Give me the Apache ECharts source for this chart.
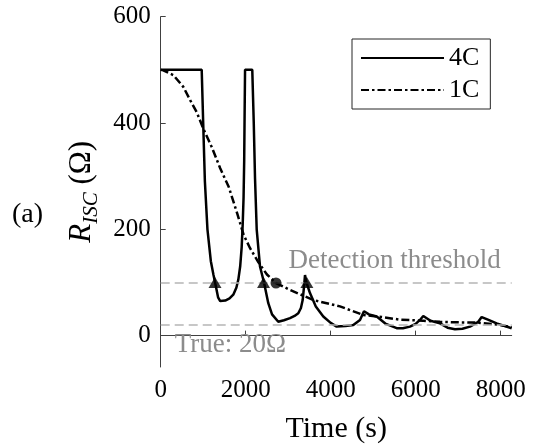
<!DOCTYPE html>
<html>
<head>
<meta charset="utf-8">
<script src="https://cdn.jsdelivr.net/npm/echarts@6/dist/echarts.min.js"></script>
<style>
html,body{margin:0;padding:0;background:#fff;}
#c{width:537px;height:447px;}
</style>
</head>
<body>
<div id="c"></div>
<script>
// ---- data ----
const xTicks = [0, 2000, 4000, 6000, 8000];
const yTicks = [0, 200, 400, 600];

const t4C = [0, 965, 1000, 1040, 1100, 1180, 1240, 1280, 1350, 1400, 1435, 1520, 1620, 1708, 1780, 1826, 1870, 1906, 1930, 1950, 1965, 1975, 1985,
  2155, 2190, 2220, 2259, 2337, 2431, 2532, 2620, 2767, 2900, 3043, 3150, 3238, 3300, 3341, 3370, 3396, 3430, 3513, 3650, 3826, 4000, 4141, 4350, 4532, 4690, 4784,
  4900, 5083, 5300, 5553, 5700, 5866, 6000, 6101, 6179, 6350, 6572, 6750, 6925, 7100, 7278, 7473, 7553, 7700, 7906, 8259];
const r4C = [500, 500, 400, 290, 200, 140, 115, 100, 72, 65, 64, 66, 70, 77, 90, 105, 130, 167, 210, 260, 330, 420, 500,
  500, 400, 295, 200, 130, 100, 61, 40, 26, 29, 33, 37, 42, 52, 67, 90, 114, 100, 80, 55, 36, 24, 17, 18, 20, 29.5, 46,
  40, 36, 22, 14, 14, 17, 22, 29.5, 37, 28, 23, 15, 12, 13, 17, 26, 35, 30, 23, 14];

const t1C = [0, 61, 300, 532, 700, 850, 1000, 1200, 1400, 1600, 1800, 1950, 2100, 2300, 2500, 2713, 3043, 3591, 4219, 4768, 5200, 5631, 6179, 6572, 7000, 7435, 7900, 8259];
const r1C = [500, 499, 490, 468, 442, 420, 390, 355, 315, 280, 230, 190, 165, 138, 115, 99, 86, 67, 55, 39, 35, 30, 28, 26, 25, 24.5, 21, 16];

const trig4C_t = [1278, 2420, 3440];
const trig4C_r = [100, 100, 100];
const trig1C_t = [2713];
const trig1C_r = [99];

const thresholdValue = 100;
const trueValue = 20;

// ---- build ----
const zip = (a, b) => a.map((v, i) => [v, b[i]]);
const FONT = '"Liberation Serif", serif';

const chart = echarts.init(document.getElementById('c'), null, {renderer: 'canvas'});
chart.setOption({
  animation: false,
  backgroundColor: '#fff',
  textStyle: {fontFamily: FONT},
  grid: {left: 160.7, right: 25.3, top: 16.7, bottom: 80, containLabel: false, outerBoundsMode: 'none'},
  xAxis: {
    type: 'value', min: 0, max: 8260,
    name: 'Time (s)', nameLocation: 'middle', nameGap: 47,
    nameTextStyle: {fontFamily: FONT, fontSize: 30, color: '#000'},
    axisLine: {show: true, lineStyle: {color: '#404040', width: 1}},
    axisTick: {show: true, inside: true, length: 5, lineStyle: {color: '#404040'}, customValues: xTicks},
    axisLabel: {fontFamily: FONT, fontSize: 25, color: '#000', margin: 11, customValues: xTicks, formatter: v => String(v)},
    splitLine: {show: false}
  },
  yAxis: {
    type: 'value', min: -59, max: 600,
    name: '{i|R}{s|ISC}{n| (Ω)}', nameLocation: 'middle', nameGap: 60, nameRotate: 90,
    nameTextStyle: {
      fontFamily: FONT, color: '#000',
      rich: {
        i: {fontFamily: FONT, fontStyle: 'italic', fontSize: 31, color: '#000', lineHeight: 34, verticalAlign: 'middle'},
        s: {fontFamily: FONT, fontStyle: 'italic', fontSize: 21, color: '#000', lineHeight: 34, verticalAlign: 'bottom', padding: [0, 0, -3, 0]},
        n: {fontFamily: FONT, fontSize: 31, color: '#000', lineHeight: 34, verticalAlign: 'middle'}
      }
    },
    axisLine: {show: true, lineStyle: {color: '#404040', width: 1}},
    axisTick: {show: true, inside: true, length: 5, lineStyle: {color: '#404040'}, customValues: yTicks},
    axisLabel: {fontFamily: FONT, fontSize: 25, color: '#000', margin: 10, customValues: yTicks, formatter: v => String(v)},
    splitLine: {show: false}
  },
  legend: {
    data: ['4C', '1C'],
    orient: 'vertical', left: 352, top: 39, align: 'left',
    itemWidth: 83, itemHeight: 14, itemGap: 6,
    padding: [6, 11, 6, 8],
    borderColor: '#262626', borderWidth: 1,
    itemStyle: {opacity: 0},
    textStyle: {fontFamily: FONT, fontSize: 26, color: '#000'},
    selectedMode: false
  },
  graphic: [
    {type: 'text', left: 12, top: 201, style: {text: '(a)', font: '28px "Liberation Serif"', fill: '#000'}}
  ],
  series: [
    {
      name: '4C', type: 'line', data: zip(t4C, r4C), symbol: 'none', z: 3,
      lineStyle: {color: '#000', width: 2.5, type: 'solid'},
      itemStyle: {color: '#000'},
      markLine: {
        silent: true, symbol: 'none',
        lineStyle: {color: '#b5b5b5', width: 1.5, type: [9, 5]},
        data: [
          {yAxis: thresholdValue, label: {show: true, formatter: 'Detection threshold', position: 'insideEndTop', distance: [11, 8],
            fontFamily: FONT, fontSize: 27, color: '#8c8c8c'}},
          {yAxis: trueValue, label: {show: true, formatter: 'True: 20Ω', position: 'insideStartBottom', distance: [14, 6],
            fontFamily: FONT, fontSize: 27, color: '#8c8c8c'}}
        ]
      }
    },
    {
      name: '1C', type: 'line', data: zip(t1C, r1C), symbol: 'none', z: 4,
      lineStyle: {color: '#000', width: 2.5, type: [8, 3, 2.5, 3]},
      itemStyle: {color: '#000'}
    },
    {
      name: '4C trigger', type: 'scatter', data: zip(trig4C_t, trig4C_r), symbol: 'triangle', symbolSize: [13, 11], z: 5,
      itemStyle: {color: '#000'}
    },
    {
      name: '1C trigger', type: 'scatter', data: zip(trig1C_t, trig1C_r), symbol: 'circle', symbolSize: 11, z: 5,
      itemStyle: {color: '#000'}
    }
  ]
});
</script>
</body>
</html>
